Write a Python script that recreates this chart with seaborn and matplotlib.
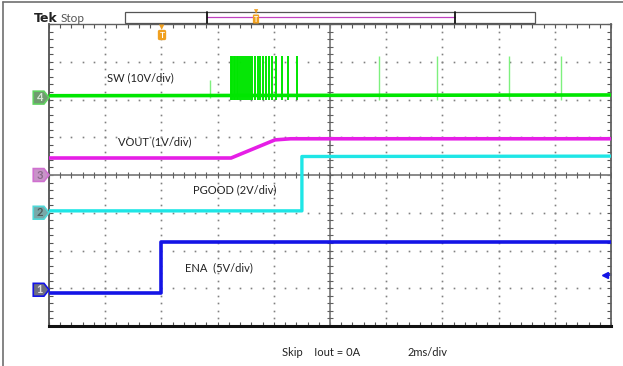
import numpy as np
import pandas as pd
import matplotlib
matplotlib.use("Agg")
import matplotlib.pyplot as plt
import matplotlib.transforms as mtransforms
from matplotlib.patches import Polygon, Rectangle
from matplotlib.lines import Line2D
import seaborn as sns

ena_t = [0, 4.0, 4.0, 20]
ena_v = [-3.12, -3.12, -1.78, -1.78]

pgood_t = [0, 9.0, 9.0, 20]
pgood_v = [-0.95, -0.95, 0.49, 0.50]

vout_t = [0, 6.48, 8.04, 8.6, 20]
vout_v = [0.45, 0.45, 0.93, 0.96, 0.96]

sw_t = [0, 20]
sw_v = [2.1, 2.12]

# pulsos de chaveamento do SW
sw_burst = [6.48, 6.52, 6.57, 6.62, 6.68, 6.73, 6.80, 6.86, 6.93, 7.00, 7.08, 7.15,
            7.24, 7.33, 7.42, 7.52, 7.62, 7.72, 7.82, 7.94, 8.08, 8.29, 8.51, 8.83]
sw_late = [11.74, 13.81, 16.37, 18.22]
sw_small = [5.73]
sw_lo, sw_hi, sw_small_hi = 2.0, 3.15, 2.52

labels = ["SW (10V/div)", "VOUT (1V/div)", "PGOOD (2V/div)", "ENA  (5V/div)"]
label_x = [2.06, 2.46, 5.12, 4.84]
label_y = [2.57, 0.875, -0.40, -2.45]

markers = ["4", "3", "2", "1"]
marker_y = [2.05, 0.0, -1.0, -3.04]

GREEN, MAGENTA, CYAN, BLUE = "#00e600", "#e61ee6", "#1ee6e6", "#1414e6"
marker_edge = ["#5fd05f", "#d070d0", "#50d8d8", BLUE]
marker_fill = ["#6f9a6f", "#c894c8", "#78a8a8", "#6e6e80"]
marker_txt = ["#d8e8d8", "#8a6a8a", "#505a5a", "#e0e0e0"]

# === Estilo
sns.set_theme(style="white")
plt.rcParams['font.family'] = ['Lato', 'DejaVu Sans']

W, H = 623, 366
fig = plt.figure(figsize=(W / 100, H / 100), dpi=100)
ax = fig.add_axes([49 / W, 1 - 326 / H, 562 / W, 302 / H])
ax.set_xlim(0, 20)
ax.set_ylim(-4, 4)

# graticula pontilhada
xmin = np.arange(0, 20.01, 0.4)
ymin = np.arange(-4, 4.01, 0.2)
for gx in range(2, 20, 2):
    if gx == 10:
        continue
    ax.plot(np.full_like(ymin, gx), ymin, ls="none", marker="s", ms=1.2, color="#808080", mew=0)
for gy in [-3, -2, -1, 1, 2, 3]:
    ax.plot(xmin, np.full_like(xmin, gy), ls="none", marker="s", ms=1.2, color="#808080", mew=0)

ax.axvline(10, color="#808080", lw=1.3, zorder=1)
ax.axhline(0, color="#808080", lw=1.3, zorder=1)
ax.plot(np.full_like(ymin, 10), ymin, ls="none", marker="_", ms=5, color="#606060", mew=0.8)
ax.plot(xmin, np.zeros_like(xmin), ls="none", marker="|", ms=5, color="#606060", mew=0.8)

# traços
df_ena = pd.DataFrame({"t": ena_t, "v": ena_v})
df_pg = pd.DataFrame({"t": pgood_t, "v": pgood_v})
df_vo = pd.DataFrame({"t": vout_t, "v": vout_v})
df_sw = pd.DataFrame({"t": sw_t, "v": sw_v})

ax.vlines(sw_burst, sw_lo, sw_hi, color=GREEN, lw=1.4, zorder=3)
ax.vlines(sw_late, sw_lo, sw_hi, color="#7ef07e", lw=1.0, zorder=3)
ax.vlines(sw_small, 2.03, sw_small_hi, color="#7ef07e", lw=1.0, zorder=3)
sns.lineplot(data=df_sw, x="t", y="v", ax=ax, color=GREEN, lw=2.6, estimator=None, sort=False, zorder=4)
sns.lineplot(data=df_vo, x="t", y="v", ax=ax, color=MAGENTA, lw=2.6, estimator=None, sort=False, zorder=4)
sns.lineplot(data=df_pg, x="t", y="v", ax=ax, color=CYAN, lw=2.4, estimator=None, sort=False, zorder=4)
sns.lineplot(data=df_ena, x="t", y="v", ax=ax, color=BLUE, lw=2.6, estimator=None, sort=False, zorder=4)
ax.set_xlabel("")
ax.set_ylabel("")

for txt, lx, ly in zip(labels, label_x, label_y):
    ax.text(lx, ly, txt, ha="left", va="center", fontsize=8, color="#222222")

# marcadores de canal
btrans = mtransforms.blended_transform_factory(ax.transAxes, ax.transData)
for m, my, ec, fc, tc in zip(markers, marker_y, marker_edge, marker_fill, marker_txt):
    h = 0.17
    poly = Polygon([(-0.028, my - h), (-0.009, my - h), (0, my), (-0.009, my + h), (-0.028, my + h)],
                   closed=True, transform=btrans, clip_on=False, fc=fc, ec=ec, lw=1.2, zorder=6)
    ax.add_patch(poly)
    ax.text(-0.0165, my, m, transform=btrans, ha="center", va="center", fontsize=8,
            color=tc, fontweight="bold", zorder=7)

# seta azul (nível de trigger)
ax.plot([19.8], [-2.65], marker="<", ms=4.5, color=BLUE, clip_on=False)
ax.plot([19.8, 20.0], [-2.65, -2.65], color=BLUE, lw=1.2, clip_on=False)

# moldura e ticks
ax.set_xticks(np.arange(0, 20.01, 2))
ax.set_yticks(np.arange(-4, 4.01, 1))
ax.set_xticks(xmin, minor=True)
ax.set_yticks(ymin, minor=True)
ax.tick_params(which="both", direction="in", top=True, right=True, bottom=True, left=True,
               length=3, width=0.8, color="#555555", labelleft=False, labelbottom=False)
for side, c, lw in [("left", "#505050", 1.3), ("right", "#606060", 1.3), ("top", "#606060", 1.0), ("bottom", "#111111", 2.2)]:
    ax.spines[side].set_color(c)
    ax.spines[side].set_linewidth(lw)
    ax.spines[side].set_visible(True)

# cabeçalho
fig.text(34 / W, 1 - 18 / H, "Tek", fontsize=9, fontweight="bold", color="#222222", va="center",
         family=["DejaVu Sans"])
fig.text(61 / W, 1 - 18 / H, "Stop", fontsize=8.5, color="#555555", va="center")
fig.patches.append(Rectangle((125 / W, 1 - 23 / H), 410 / W, 11 / H, transform=fig.transFigure,
                             fill=False, ec="#555555", lw=0.9))
fig.lines.append(Line2D([207 / W, 455 / W], [1 - 17 / H, 1 - 17 / H], transform=fig.transFigure,
                        color="#c040c0", lw=0.9))
for bx in [207, 455]:
    fig.lines.append(Line2D([bx / W, bx / W], [1 - 23 / H, 1 - 12 / H], transform=fig.transFigure,
                            color="#111111", lw=1.3))
fig.text(256 / W, 1 - 19 / H, "T", fontsize=5, color="white", fontweight="bold", ha="center", va="center",
         bbox=dict(boxstyle="round,pad=0.15", fc="#f0a020", ec="none"))
fig.text(256 / W, 1 - 12 / H, "▼", fontsize=4, color="#f0a020", ha="center", va="center")
fig.text(162 / W, 1 - 35 / H, "T", fontsize=6, color="white", fontweight="bold", ha="center", va="center",
         bbox=dict(boxstyle="round,pad=0.2", fc="#f0a020", ec="none"))
fig.text(162 / W, 1 - 27 / H, "▼", fontsize=5, color="#f0a020", ha="center", va="center")

# rodapé
fig.text(282 / W, 1 - 353 / H, "Skip    Iout = 0A", fontsize=8, color="#222222", va="center")
fig.text(408 / W, 1 - 353 / H, "2ms/div", fontsize=8, color="#222222", va="center")

# borda da janela
fig.lines.append(Line2D([3 / W, 3 / W], [0, 1 - 2 / H], transform=fig.transFigure, color="#707070", lw=1.2))
fig.lines.append(Line2D([3 / W, 1], [1 - 2 / H, 1 - 2 / H], transform=fig.transFigure, color="#707070", lw=1.2))

fig.savefig("out.png", dpi=100)
